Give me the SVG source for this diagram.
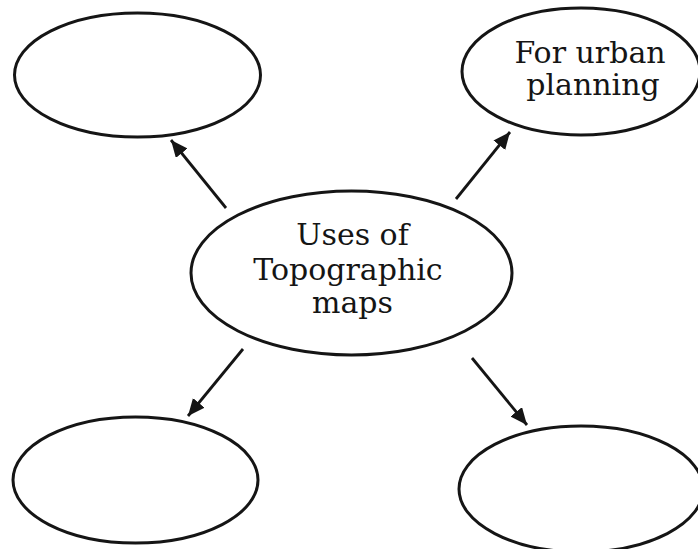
<svg xmlns="http://www.w3.org/2000/svg" width="698" height="549" viewBox="0 0 698 549">
  <style>
    .node ellipse { fill: #ffffff; stroke: #151515; stroke-width: 3; }
    .label { font-family: "DejaVu Serif", "Liberation Serif", serif; font-size: 30px; fill: #151515; text-anchor: middle; }
    .edge { stroke: #151515; stroke-width: 2.8; fill: none; marker-end: url(#arrow); }
  </style>
  <defs>
    <marker id="arrow" markerUnits="userSpaceOnUse" markerWidth="20" markerHeight="18" refX="17" refY="7.5" orient="auto">
      <path d="M0,0 L17,7.5 L0,15 z" fill="#151515"/>
    </marker>
  </defs>
  <rect width="698" height="549" fill="#ffffff"/>

  <!-- nodes -->
  <g id="node-top-left" class="node">
    <ellipse cx="137.5" cy="75" rx="123" ry="62"/>
  </g>
  <g id="node-urban-planning" class="node">
    <ellipse cx="581" cy="71.5" rx="119" ry="63.5"/>
    <text class="label" x="590" y="63">For urban</text>
    <text class="label" x="593" y="95">planning</text>
  </g>
  <g id="node-centre" class="node">
    <ellipse cx="351.5" cy="273" rx="160.5" ry="82"/>
    <text class="label" x="352.5" y="245">Uses of</text>
    <text class="label" x="348" y="280">Topographic</text>
    <text class="label" x="352.5" y="313">maps</text>
  </g>
  <g id="node-bottom-left" class="node">
    <ellipse cx="135.5" cy="480" rx="122.5" ry="63"/>
  </g>
  <g id="node-bottom-right" class="node">
    <ellipse cx="581" cy="489" rx="122" ry="63"/>
  </g>

  <!-- connectors -->
  <g id="connectors">
    <line class="edge" x1="226" y1="208" x2="171" y2="140"/>
    <line class="edge" x1="456" y1="199" x2="510" y2="132"/>
    <line class="edge" x1="243" y1="349" x2="188" y2="416"/>
    <line class="edge" x1="472" y1="358" x2="527" y2="425"/>
  </g>
</svg>
